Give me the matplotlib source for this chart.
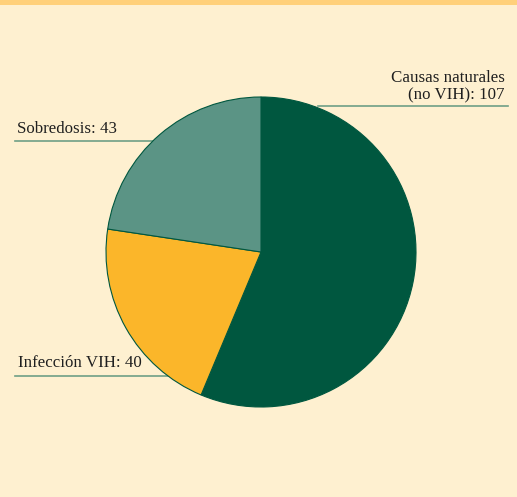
import matplotlib
matplotlib.use("Agg")
import matplotlib.pyplot as plt
from matplotlib.patches import Rectangle

categories = ["Causas naturales\n(no VIH): 107", "Infección VIH: 40", "Sobredosis: 43"]
values = [107, 40, 43]
colors = ["#00573F", "#FBB62A", "#5B9485"]

W, H = 517, 497
fig = plt.figure(figsize=(W / 100, H / 100), dpi=100)
fig.patch.set_facecolor("#FEF0D0")
ax = fig.add_axes([0, 0, 1, 1])
ax.set_facecolor("#FEF0D0")

cx, cy, r = 261, H - 252, 155
wedges, _ = ax.pie(values, colors=colors, startangle=90, counterclock=False,
                   center=(cx, cy), radius=r,
                   wedgeprops=dict(edgecolor="#00573F", linewidth=0.8))
ax.set_xlim(0, W)
ax.set_ylim(0, H)
ax.set_aspect("equal")
ax.axis("off")

# top stripe
ax.add_patch(Rectangle((0, H - 5), W, 5, facecolor="#FFD07A", edgecolor="none", zorder=5))

font = dict(family=["Liberation Serif", "DejaVu Serif"], fontsize=12.2, color="#1F1F1F")
line_c = "#6E9F86"

# Causas naturales
ax.text(505, H - 87, categories[0], ha="right", va="center", linespacing=1.1, **font)
ax.plot([318, 508], [H - 105.5, H - 105.5], color=line_c, lw=1.2, zorder=0)

# Sobredosis
ax.text(17, H - 129, categories[2], ha="left", va="center", **font)
ax.plot([15, 160], [H - 141, H - 141], color=line_c, lw=1.2, zorder=0)

# Infección VIH
ax.text(18, H - 363, categories[1], ha="left", va="center", **font)
ax.plot([15, 200], [H - 376, H - 376], color=line_c, lw=1.2, zorder=0)

fig.savefig("out.png", dpi=100, facecolor=fig.get_facecolor())
